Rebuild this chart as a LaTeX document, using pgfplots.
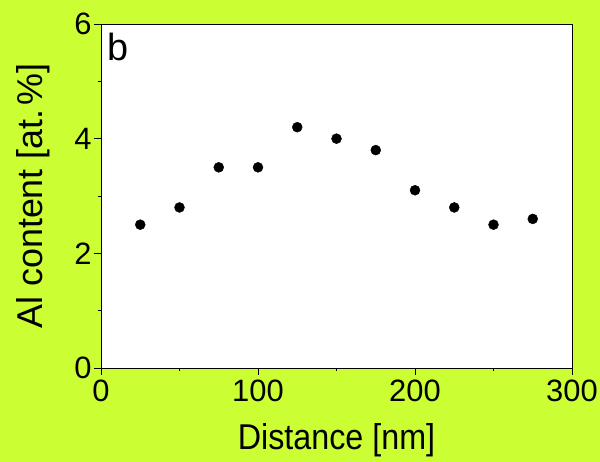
\documentclass[border=0pt]{standalone}
\usepackage{fontspec}
\setmainfont{Liberation Sans}
\newfontfamily\narrowfont[FakeStretch=0.9]{Liberation Sans}
\usepackage{pgfplots}
\pgfplotsset{compat=1.18}
\definecolor{bgyellow}{RGB}{204,255,51}

\begin{document}
\begin{tikzpicture}[x=1bp,y=1bp]
\fill[bgyellow] (0,0) rectangle (600,462);
\begin{axis}[
  at={(101bp,94bp)},
  anchor=south west,
  scale only axis,
  width=471bp,
  height=344bp,
  xmin=0, xmax=300,
  ymin=0, ymax=6,
  xtick={0,100,200,300},
  ytick={0,2,4,6},
  minor xtick={50,150,250},
  minor ytick={1,3,5},
  xtick pos=left,
  ytick pos=left,
  tick align=outside,
  major tick length=7bp,
  minor tick length=3bp,
  every tick/.style={black, line width=0.8bp},
  axis line style={black, line width=0.8bp},
  axis background/.style={fill=white},
  /pgf/number format/assume math mode=true,
  ticklabel style={font=\fontsize{31}{31}\selectfont},
  xticklabel style={yshift=-1bp},
  yticklabel style={xshift=1bp},
  xlabel={Distance [nm]},
  ylabel={Al content [at.\kern4bp\%]},
  xlabel style={font=\narrowfont\fontsize{36}{36}\selectfont,
    at={(0.5,0)}, anchor=base, yshift=-82bp},
  ylabel style={font=\fontsize{36}{36}\selectfont,
    at={(0,0.5)}, anchor=base, rotate=0, yshift=58bp},
]
\addplot[only marks, mark=*, mark size=5bp, black] coordinates {
  (25,2.5) (50,2.8) (75,3.5) (100,3.5) (125,4.2) (150,4.0)
  (175,3.8) (200,3.1) (225,2.8) (250,2.5) (275,2.6)
};
\node[anchor=north west, inner sep=0pt, font=\fontsize{38}{38}\selectfont]
  at (rel axis cs:0.014,0.975) {b};
\end{axis}
\pgfresetboundingbox
\path[use as bounding box] (0,0) rectangle (600,462);
\end{tikzpicture}
\end{document}
